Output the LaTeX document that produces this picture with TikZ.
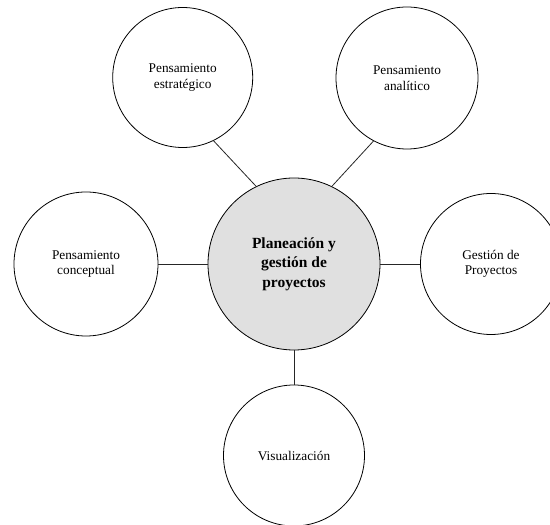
\documentclass[tikz,border=0pt]{standalone}
\usepackage{fontspec}
\setmainfont{Liberation Serif}
\definecolor{hubfill}{RGB}{224,224,224}
\begin{document}
\begin{tikzpicture}[x=1pt,y=1pt,
  leaf/.style={circle,draw=black,line width=0.8pt,fill=white,inner sep=0pt,align=center,
    font=\fontsize{13.3}{15.5}\selectfont},
  hub/.style={circle,draw=black,line width=0.8pt,fill=hubfill,inner sep=0pt,align=center,
    minimum size=172pt,font=\fontsize{15.5}{19.5}\selectfont\bfseries},
  link/.style={draw=black!85,line width=0.8pt}]
\useasboundingbox (0,0) rectangle (550,525);
\node[hub] (c) at (294,261) {Planeación y\\gestión de\\proyectos};
\node[leaf,minimum size=140pt] (tl) at (182.7,447.5) {Pensamiento\\estratégico};
\node[leaf,minimum size=142pt] (tr) at (407,447) {Pensamiento\\analítico};
\node[leaf,minimum size=144pt] (l) at (86,261) {Pensamiento\\conceptual};
\node[leaf,minimum size=141pt] (r) at (491,261) {Gestión de\\Proyectos};
\node[leaf,minimum size=141pt] (b) at (294,69.5) {Visualización};
\draw[link] (tl.-64.5) -- (c.116.3);
\draw[link] (tr.242.6) -- (c.64.3);
\draw[link] (l.east) -- (c.west);
\draw[link] (r.west) -- (c.east);
\draw[link] (b.north) -- (c.south);
\end{tikzpicture}
\end{document}
